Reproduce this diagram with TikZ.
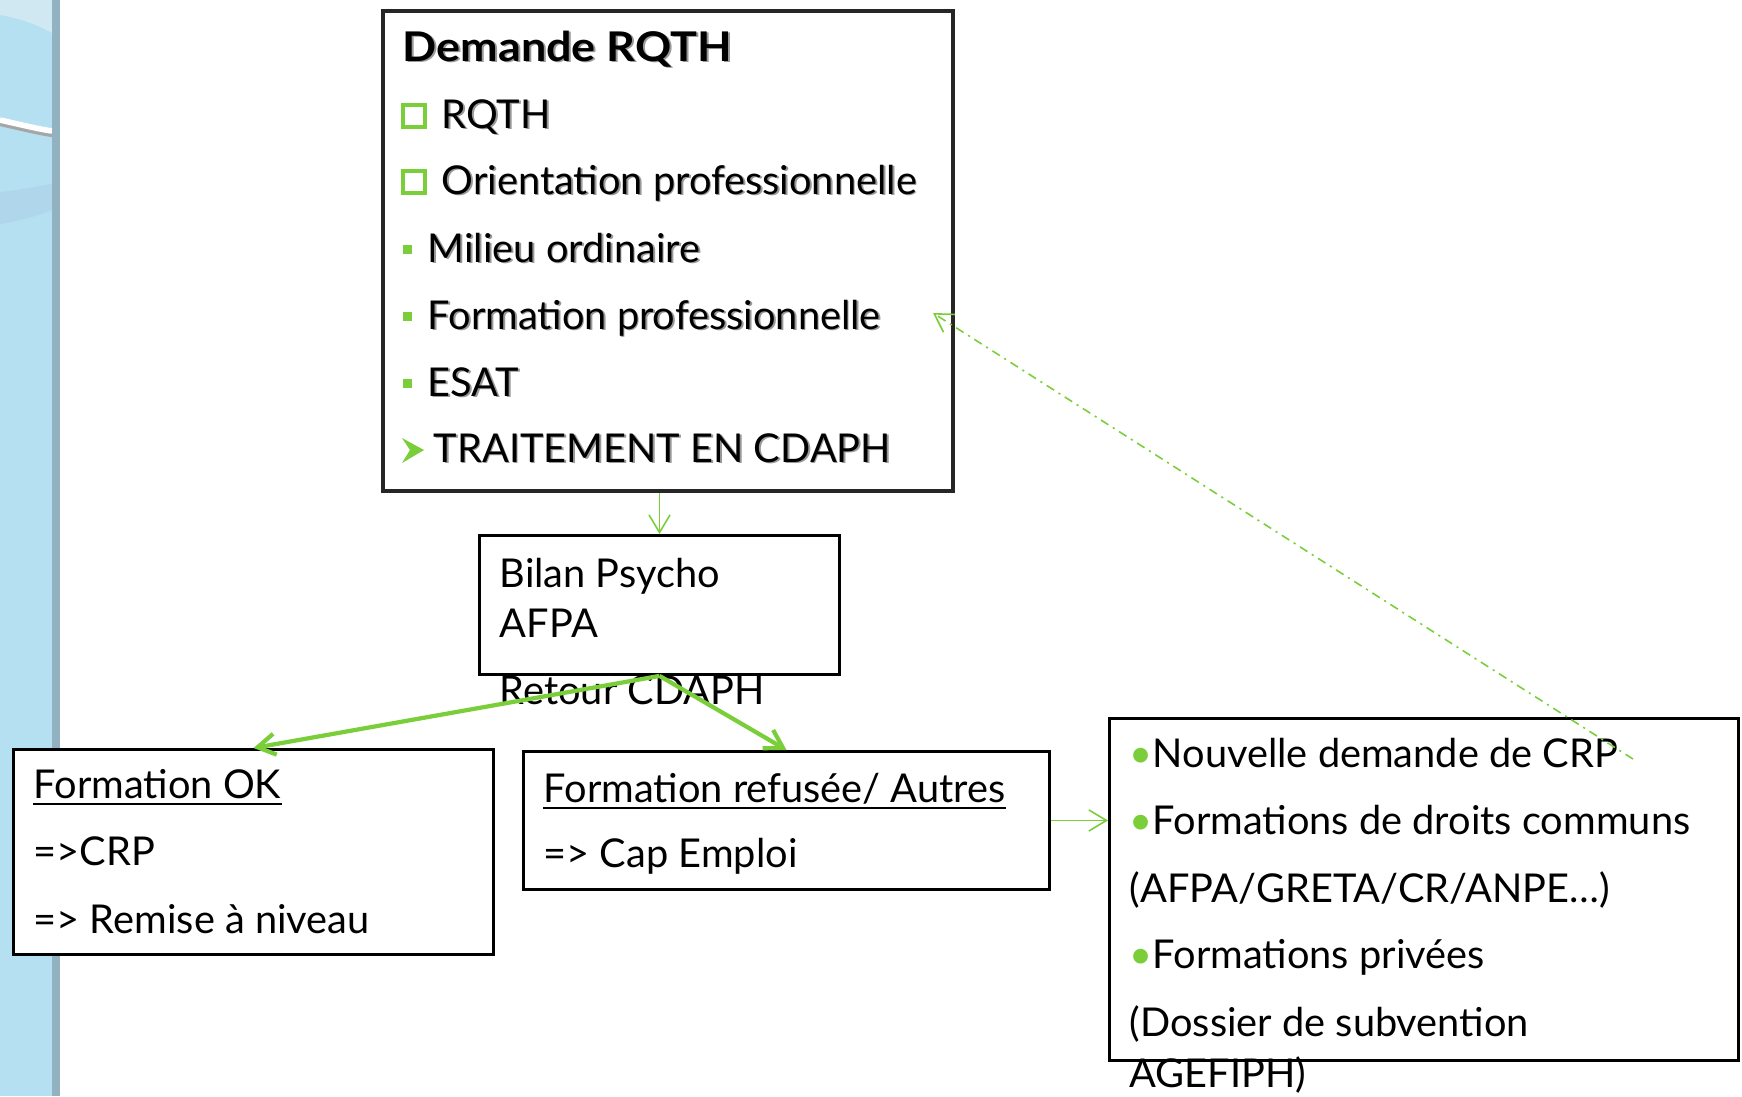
\documentclass[tikz,border=0pt]{standalone}
\usepackage{fontspec}
\setmainfont{Lato}
\usetikzlibrary{arrows.meta}
\definecolor{vert}{RGB}{122,206,58}
\definecolor{bleufond}{RGB}{180,224,241}
\definecolor{bleuclair}{RGB}{208,232,242}
\definecolor{bleubande}{RGB}{176,214,236}
\definecolor{bleubord}{RGB}{146,178,194}
\newcommand{\corps}{\fontsize{11.3}{13}\selectfont}
\newcommand{\ombre}[1]{\makebox[0pt][l]{\hspace{0.5pt}\raisebox{-0.5pt}{\color{black!40}#1}}#1}
\tikzset{>={Straight Barb[length=5pt,width=6pt]}}
\tikzset{%
    box/.style={draw, fill=white, line width=0.8pt, anchor=north west, inner sep=0pt},
    txt/.style={anchor=base west, inner sep=0pt, font=\corps},
    link/.style={->, draw=vert, line width=0.45pt},
    biglink/.style={->, draw=vert, line width=1.2pt}
}

\begin{document}
\begin{tikzpicture}[x=0.01cm,y=-0.01cm]
    \useasboundingbox (0,0) rectangle (1742,1096);
    % bande laterale
    \fill[bleufond] (0,0) rectangle (52,1096);
    \fill[bleuclair] (0,0) -- (0,15) .. controls (20,18) and (40,26) .. (52,33) -- (52,0) -- cycle;
    \fill[bleubande] (0,192) .. controls (20,190) and (40,186) .. (52,184) -- (52,210) .. controls (40,215) and (20,221) .. (0,224) -- cycle;
    \draw[black!35, line width=1.2pt] (0,124) .. controls (18,128) and (38,133) .. (52,135);
    \draw[white, line width=1.6pt] (0,120) .. controls (18,124) and (38,129) .. (52,131);
    \fill[bleubord] (52,0) rectangle (60,1096);

    % Demande RQTH
    \node[box, line width=1pt, draw=black!85, minimum width=5.70cm, minimum height=4.80cm] (rqth) at (381,9) {};
    \node[txt, font=\corps\bfseries] (titre) at (402,61) {\scalebox{1.13}[1.03]{\ombre{Demande RQTH}}};
    \node[txt] (l1) at (441,128) {\ombre{RQTH}};
    \node[txt] (l2) at (441,194) {\ombre{Orientation professionnelle}};
    \node[txt] (l3) at (427,262) {\ombre{Milieu ordinaire}};
    \node[txt] (l4) at (427,329) {\ombre{Formation professionnelle}};
    \node[txt] (l5) at (427,396) {\ombre{ESAT}};
    \node[txt] (l6) at (433,462) {\ombre{TRAITEMENT EN CDAPH}};
    \foreach \y in {128,194}
        \draw[vert, line width=1.2pt] (403,\y-1) rectangle (425,\y-23);
    \foreach \y in {262,329,396}
        \fill[vert] (403,\y-17) rectangle (412,\y-8);
    \fill[vert] (402,438) -- (424,450) -- (402,463) -- (410,450) -- cycle;

    % Bilan
    \node[box, minimum width=3.60cm, minimum height=1.39cm] (bilan) at (478,534) {};
    \node[txt] (b1) at (499,587) {Bilan Psycho};
    \node[txt] (b2) at (499,637) {AFPA};
    \node[txt] (b3) at (499,704) {Retour CDAPH};

    % Formation OK
    \node[box, minimum width=4.80cm, minimum height=2.05cm] (ok) at (12,748) {};
    \node[txt] (ok1) at (33,798) {Formation OK};
    \node[txt] (ok2) at (33,865) {=>CRP};
    \node[txt] (ok3) at (33,933) {=> Remise à niveau};
    \draw[line width=0.6pt] ([yshift=-1.6pt]ok1.base west) -- ([yshift=-1.6pt]ok1.base east);

    % Formation refusee
    \node[box, minimum width=5.26cm, minimum height=1.38cm] (refus) at (522,750) {};
    \node[txt] (r1) at (543,802) {Formation refusée/ Autres};
    \node[txt] (r2) at (543,867) {=> Cap Emploi};
    \draw[line width=0.6pt] ([yshift=-1.6pt]r1.base west) -- ([yshift=-1.6pt]r1.base east);

    % Suite
    \node[box, minimum width=6.29cm, minimum height=3.42cm] (suite) at (1108,717) {};
    \node[txt] (s1) at (1129,767) {\textcolor{vert}{\textbullet}Nouvelle demande de CRP};
    \node[txt] (s2) at (1129,834) {\textcolor{vert}{\textbullet}Formations de droits communs};
    \node[txt] (s3) at (1129,902) {(AFPA/GRETA/CR/ANPE…)};
    \node[txt] (s4) at (1129,968) {\textcolor{vert}{\textbullet}Formations privées};
    \node[txt] (s5) at (1129,1036) {(Dossier de subvention};
    \node[txt] (s6) at (1129,1087) {AGEFIPH)};

    % fleches
    \draw[link] (rqth.south -| bilan.north) -- (bilan.north);
    \draw[biglink] (bilan.south) -- (ok.north);
    \draw[biglink] (bilan.south) -- (refus.north);
    \draw[link] (refus.east) -- (refus.east -| suite.west);
    \coordinate (crp) at (1633,759);
    \coordinate (retour) at (933,313);
    \draw[link, dash pattern=on 2.5pt off 1.5pt on 0.6pt off 1.5pt] (crp) -- (retour);
\end{tikzpicture}
\end{document}
